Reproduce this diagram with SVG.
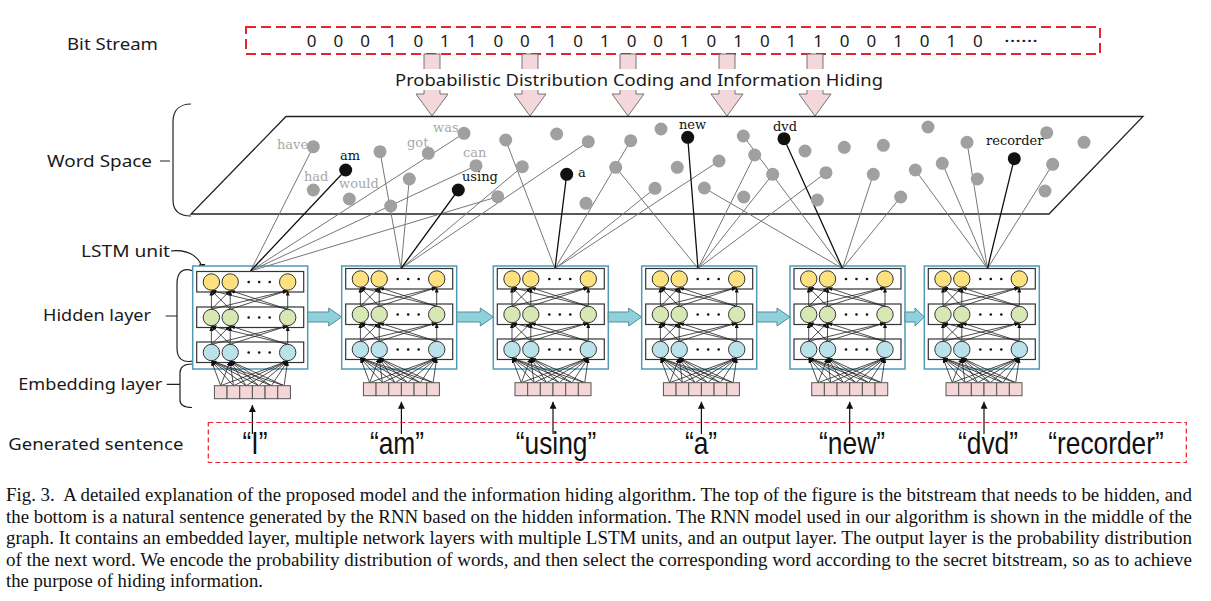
<svg xmlns="http://www.w3.org/2000/svg" xmlns:xlink="http://www.w3.org/1999/xlink" width="1211" height="601" viewBox="0 0 1211 601">
<style>
.lbl{font-family:"Noto Sans","Liberation Sans",sans-serif;font-size:17px;fill:#1a1a1a}
.bits{font-family:"Noto Sans","Liberation Sans",sans-serif;font-size:17px;fill:#1a1a1a}
.wg{font-family:"DejaVu Serif","Liberation Serif",serif;font-size:13px;fill:#a8a8a8}
.wb{font-family:"DejaVu Serif","Liberation Serif",serif;font-size:13px;fill:#111}
.gd{fill:#a0a0a0}
.bd{fill:#111}
.gl{stroke:#777;stroke-width:1;fill:none}
.bl{stroke:#111;stroke-width:1.3;fill:none}
.sent{font-family:"Liberation Sans",sans-serif;font-size:31px;fill:#111}
.cap{font-family:"Liberation Serif",serif;font-size:18px;fill:#111}
.outer{fill:#fff;stroke:#4f9bb8;stroke-width:1.5}
.row{fill:#fff;stroke:#333;stroke-width:1.2}
.cy{fill:#fce17e;stroke:#333;stroke-width:1}
.cg{fill:#d7e8b5;stroke:#333;stroke-width:1}
.cb{fill:#b9e2ea;stroke:#333;stroke-width:1}
.in{stroke:#222;stroke-width:0.8;marker-end:url(#ah)}
.emb{fill:#f4d5d8;stroke:#555;stroke-width:1}
.pink{fill:#f4d7da;stroke:#555;stroke-width:0.8}
.blk{fill:#8fd0da;stroke:#4d8e9c;stroke-width:1}
.up{stroke:#111;stroke-width:1.2;marker-end:url(#ahb)}
.brace{fill:none;stroke:#222;stroke-width:1.2}
.red{fill:none;stroke:#e8232d}
</style>
<defs>
<marker id="ah" viewBox="0 0 10 8" refX="10" refY="4" markerWidth="5" markerHeight="4" orient="auto" markerUnits="userSpaceOnUse"><path d="M0,0 L10,4 L0,8 z" fill="#111"/></marker>
<marker id="ahb" viewBox="0 0 10 10" refX="10" refY="5" markerWidth="7" markerHeight="7" orient="auto" markerUnits="userSpaceOnUse"><path d="M0,0 L10,5 L0,10 z" fill="#111"/></marker>
<g id="cell">
<rect class="row" x="4" y="268.5" width="107" height="20.5"/>
<rect class="row" x="4" y="304" width="107" height="20.5"/>
<rect class="row" x="4" y="339" width="107" height="20.5"/>
<line class="in" x1="18.7" y1="306.3" x2="18.7" y2="287.5"/>
<line class="in" x1="18.7" y1="306.3" x2="37.5" y2="287.5"/>
<line class="in" x1="18.7" y1="306.3" x2="95" y2="287.5"/>
<line class="in" x1="37.5" y1="306.3" x2="18.7" y2="287.5"/>
<line class="in" x1="37.5" y1="306.3" x2="37.5" y2="287.5"/>
<line class="in" x1="37.5" y1="306.3" x2="95" y2="287.5"/>
<line class="in" x1="95" y1="306.3" x2="18.7" y2="287.5"/>
<line class="in" x1="95" y1="306.3" x2="37.5" y2="287.5"/>
<line class="in" x1="95" y1="306.3" x2="95" y2="287.5"/>
<line class="in" x1="18.7" y1="341.3" x2="18.7" y2="322.9"/>
<line class="in" x1="18.7" y1="341.3" x2="37.5" y2="322.9"/>
<line class="in" x1="18.7" y1="341.3" x2="95" y2="322.9"/>
<line class="in" x1="37.5" y1="341.3" x2="18.7" y2="322.9"/>
<line class="in" x1="37.5" y1="341.3" x2="37.5" y2="322.9"/>
<line class="in" x1="37.5" y1="341.3" x2="95" y2="322.9"/>
<line class="in" x1="95" y1="341.3" x2="18.7" y2="322.9"/>
<line class="in" x1="95" y1="341.3" x2="37.5" y2="322.9"/>
<line class="in" x1="95" y1="341.3" x2="95" y2="322.9"/>
<line class="in" x1="28" y1="382.7" x2="18.7" y2="358"/>
<line class="in" x1="28" y1="382.7" x2="37.5" y2="358"/>
<line class="in" x1="28" y1="382.7" x2="95" y2="358"/>
<line class="in" x1="40.7" y1="382.7" x2="18.7" y2="358"/>
<line class="in" x1="40.7" y1="382.7" x2="37.5" y2="358"/>
<line class="in" x1="40.7" y1="382.7" x2="95" y2="358"/>
<line class="in" x1="53.4" y1="382.7" x2="18.7" y2="358"/>
<line class="in" x1="53.4" y1="382.7" x2="37.5" y2="358"/>
<line class="in" x1="53.4" y1="382.7" x2="95" y2="358"/>
<line class="in" x1="66" y1="382.7" x2="18.7" y2="358"/>
<line class="in" x1="66" y1="382.7" x2="37.5" y2="358"/>
<line class="in" x1="66" y1="382.7" x2="95" y2="358"/>
<line class="in" x1="78.7" y1="382.7" x2="18.7" y2="358"/>
<line class="in" x1="78.7" y1="382.7" x2="37.5" y2="358"/>
<line class="in" x1="78.7" y1="382.7" x2="95" y2="358"/>
<line class="in" x1="91.4" y1="382.7" x2="18.7" y2="358"/>
<line class="in" x1="91.4" y1="382.7" x2="37.5" y2="358"/>
<line class="in" x1="91.4" y1="382.7" x2="95" y2="358"/>
<circle class="cy" cx="18.7" cy="279" r="8.2"/>
<circle class="cy" cx="37.5" cy="279" r="8.2"/>
<circle class="cy" cx="95" cy="279" r="8.2"/>
<circle class="cg" cx="18.7" cy="314.5" r="8.2"/>
<circle class="cg" cx="37.5" cy="314.5" r="8.2"/>
<circle class="cg" cx="95" cy="314.5" r="8.2"/>
<circle class="cb" cx="18.7" cy="349.5" r="8.2"/>
<circle class="cb" cx="37.5" cy="349.5" r="8.2"/>
<circle class="cb" cx="95" cy="349.5" r="8.2"/>
<g fill="#111">
<circle cx="56" cy="279" r="1.3"/><circle cx="66.5" cy="279" r="1.3"/><circle cx="77" cy="279" r="1.3"/>
<circle cx="56" cy="314.5" r="1.3"/><circle cx="66.5" cy="314.5" r="1.3"/><circle cx="77" cy="314.5" r="1.3"/>
<circle cx="56" cy="349.5" r="1.3"/><circle cx="66.5" cy="349.5" r="1.3"/><circle cx="77" cy="349.5" r="1.3"/>
</g>
<rect class="emb" x="21.7" y="382.7" width="12.67" height="13"/>
<rect class="emb" x="34.37" y="382.7" width="12.67" height="13"/>
<rect class="emb" x="47.04" y="382.7" width="12.67" height="13"/>
<rect class="emb" x="59.71" y="382.7" width="12.67" height="13"/>
<rect class="emb" x="72.38" y="382.7" width="12.67" height="13"/>
<rect class="emb" x="85.05" y="382.7" width="12.67" height="13"/>
</g>
</defs>
<rect width="1211" height="601" fill="#fff"/>

<g id="labels">
<text class="lbl" x="67" y="50" textLength="91" lengthAdjust="spacingAndGlyphs">Bit Stream</text>
<text class="lbl" x="47" y="167" textLength="105" lengthAdjust="spacingAndGlyphs">Word Space</text>
<text class="lbl" x="81" y="256.7" textLength="89" lengthAdjust="spacingAndGlyphs">LSTM unit</text>
<text class="lbl" x="43" y="320.7" textLength="108" lengthAdjust="spacingAndGlyphs">Hidden layer</text>
<text class="lbl" x="18.3" y="390" textLength="144" lengthAdjust="spacingAndGlyphs">Embedding layer</text>
<text class="lbl" x="8.3" y="450" textLength="175" lengthAdjust="spacingAndGlyphs">Generated sentence</text>
<path class="brace" d="M160,161 H170 M191,104 C180,104 173,110 173,122 L173,200 C173,211 180,216 191,216"/>
<path class="brace" d="M165.7,316 H177 M193,271 C183,267 177,272 177,284 L177,348 C177,359 183,363 193,361"/>
<path class="brace" d="M166.7,384.3 H180 M192,364 C184,364 180,367 180,373 L180,400 C180,405 184,407.5 192,407.5"/>
<path d="M171,251 C190,249 201,258 203,271" fill="none" stroke="#111" stroke-width="1.2" marker-end="url(#ahb)"/>
</g>

<g id="bitstream">
<rect class="red" x="246" y="27" width="854" height="27" stroke-width="2" stroke-dasharray="10 5"/>
<text class="bits" y="46.7" text-anchor="middle" x="311.7 338.35 365 391.65 418.3 444.95 471.6 498.25 524.9 551.55 578.2 604.85 631.5 658.15 684.8 711.45 738.1 764.75 791.4 818.05 844.7 871.35 898 924.65 951.3 977.95">00010110010100101011001010</text>
<text class="bits" x="1004" y="46.7" textLength="34" lengthAdjust="spacingAndGlyphs">······</text>
</g>

<g id="coding-arrows">
<path class="pink" d="M424,54 H440 V94 H448 L432,116 L416,94 H424 Z"/>
<path class="pink" d="M522,54 H538 V94 H546 L530,116 L514,94 H522 Z"/>
<path class="pink" d="M620,54 H636 V94 H644 L628,116 L612,94 H620 Z"/>
<path class="pink" d="M719,54 H735 V94 H743 L727,116 L711,94 H719 Z"/>
<path class="pink" d="M807,54 H823 V94 H831 L815,116 L799,94 H807 Z"/>
<rect x="392" y="69" width="494" height="21" fill="#fff"/>
<text class="lbl" x="395" y="85.7" font-size="19.5" textLength="488" lengthAdjust="spacingAndGlyphs">Probabilistic Distribution Coding and Information Hiding</text>
</g>

<g id="word-space">
<path d="M286,116.5 H1143 L1049,214 H191 Z" fill="#fff" stroke="#222" stroke-width="1.3"/>
</g>

<g id="lstm1"><rect class="outer" x="192.7" y="266" width="115" height="103"/><use xlink:href="#cell" href="#cell" x="192.7" y="3"/></g>
<g id="lstm2"><rect class="outer" x="341.7" y="266" width="115" height="103"/><use xlink:href="#cell" href="#cell" x="341.7" y="0"/></g>
<g id="lstm3"><rect class="outer" x="493.3" y="266" width="115" height="103"/><use xlink:href="#cell" href="#cell" x="493.3" y="0"/></g>
<g id="lstm4"><rect class="outer" x="641.7" y="266" width="115" height="103"/><use xlink:href="#cell" href="#cell" x="641.7" y="0"/></g>
<g id="lstm5"><rect class="outer" x="790" y="266" width="115" height="103"/><use xlink:href="#cell" href="#cell" x="790" y="0"/></g>
<g id="lstm6"><rect class="outer" x="924.3" y="266" width="115" height="103"/><use xlink:href="#cell" href="#cell" x="924.3" y="0"/></g>

<g id="connectors">
<path class="gl" d="M313.3,146.7 L250.5,271 M464,133.3 L250.5,271 M476,165.7 L250.5,271 M497.7,196.7 L250.5,271
M380,151.7 L401,268.5 M409.3,179 L401,268.5 M522.3,166.7 L401,268.5 M588.3,141.7 L401,268.5
M505.7,140 L555,268.5 M630.7,140.7 L555,268.5 M655,188.3 L555,268.5 M719,161 L555,268.5
M615.7,167.3 L698,268.5 M754.7,155 L698,268.5 M772.7,174.3 L698,268.5 M826,172.7 L698,268.5
M743.3,136 L842.5,268.5 M704.3,188 L842.5,268.5 M873.3,174.3 L842.5,268.5 M900.7,197 L842.5,268.5
M915.3,170 L987.5,268.5 M942.3,163.3 L987.5,268.5 M967,142.3 L987.5,268.5 M1052.7,164.3 L987.5,268.5"/>
<path class="bl" d="M345.7,170 L250.5,271 M458.3,190 L401,268.5 M566.7,174.3 L555,268.5 M687.7,137.3 L698,268.5 M784,138.7 L842.5,268.5 M1014.3,158.7 L987.5,268.5"/>
<path class="blk" d="M307.7,312 H328.7 V308 L341.7,317 L328.7,326 V322 H307.7 Z"/>
<path class="blk" d="M456.7,312 H480.3 V308 L493.3,317 L480.3,326 V322 H456.7 Z"/>
<path class="blk" d="M608.3,312 H628.7 V308 L641.7,317 L628.7,326 V322 H608.3 Z"/>
<path class="blk" d="M756.7,312 H777 V308 L790,317 L777,326 V322 H756.7 Z"/>
<path class="blk" d="M905,312 H915 V308 L924.3,317 L915,326 V322 H905 Z"/>
<line class="up" x1="252.4" y1="434" x2="252.4" y2="405"/>
<line class="up" x1="401.4" y1="434" x2="401.4" y2="401.7"/>
<line class="up" x1="553" y1="434" x2="553" y2="401.7"/>
<line class="up" x1="701.4" y1="434" x2="701.4" y2="401.7"/>
<line class="up" x1="849.7" y1="434" x2="849.7" y2="401.7"/>
<line class="up" x1="984" y1="434" x2="984" y2="401.7"/>
</g>

<g id="words">
<g class="gd">
<circle cx="313.3" cy="146.7" r="6.5"/><circle cx="313.3" cy="190" r="6.5"/><circle cx="349.3" cy="199" r="6.5"/>
<circle cx="380" cy="151.7" r="6.5"/><circle cx="428.3" cy="153.3" r="6.5"/><circle cx="464" cy="133.3" r="6.5"/>
<circle cx="409.3" cy="179" r="6.5"/><circle cx="390.7" cy="206" r="6.5"/><circle cx="476" cy="165.7" r="6.5"/>
<circle cx="497.7" cy="196.7" r="6.5"/><circle cx="505.7" cy="140" r="6.5"/><circle cx="522.3" cy="166.7" r="6.5"/>
<circle cx="556.7" cy="134" r="6.5"/><circle cx="588.3" cy="141.7" r="6.5"/><circle cx="586" cy="203.3" r="6.5"/>
<circle cx="630.7" cy="140.7" r="6.5"/><circle cx="615.7" cy="167.3" r="6.5"/><circle cx="655" cy="188.3" r="6.5"/>
<circle cx="661" cy="129" r="6.5"/><circle cx="677.3" cy="167.3" r="6.5"/><circle cx="719" cy="161" r="6.5"/>
<circle cx="704.3" cy="188" r="6.5"/><circle cx="743.3" cy="136" r="6.5"/><circle cx="754.7" cy="155" r="6.5"/>
<circle cx="772.7" cy="174.3" r="6.5"/><circle cx="743.7" cy="197" r="6.5"/><circle cx="805" cy="151" r="6.5"/>
<circle cx="844.3" cy="147.3" r="6.5"/><circle cx="883.3" cy="145.3" r="6.5"/><circle cx="826" cy="172.7" r="6.5"/>
<circle cx="817.3" cy="200" r="6.5"/><circle cx="873.3" cy="174.3" r="6.5"/><circle cx="900.7" cy="197" r="6.5"/>
<circle cx="928" cy="127" r="6.5"/><circle cx="915.3" cy="170" r="6.5"/><circle cx="942.3" cy="163.3" r="6.5"/>
<circle cx="967" cy="142.3" r="6.5"/><circle cx="977.3" cy="179" r="6.5"/><circle cx="1046.7" cy="132.7" r="6.5"/>
<circle cx="1084" cy="142.3" r="6.5"/><circle cx="1052.7" cy="164.3" r="6.5"/><circle cx="1045" cy="191" r="6.5"/>
</g>
<g class="bd">
<circle cx="345.7" cy="170" r="6.5"/><circle cx="458.3" cy="190" r="6.5"/><circle cx="566.7" cy="174.3" r="6.5"/>
<circle cx="687.7" cy="137.3" r="6.5"/><circle cx="784" cy="138.7" r="6.5"/><circle cx="1014.3" cy="158.7" r="6.5"/>
</g>
<text class="wg" x="277" y="149">have</text>
<text class="wg" x="304" y="181">had</text>
<text class="wg" x="339" y="188">would</text>
<text class="wg" x="407" y="147">got</text>
<text class="wg" x="433" y="132">was</text>
<text class="wg" x="463" y="157">can</text>
<text class="wb" x="340" y="160">am</text>
<text class="wb" x="462" y="181">using</text>
<text class="wb" x="578" y="177">a</text>
<text class="wb" x="679" y="129">new</text>
<text class="wb" x="773" y="131">dvd</text>
<text class="wb" x="986" y="145">recorder</text>
</g>

<g id="sentence">
<rect class="red" x="208.3" y="422.5" width="978" height="40" stroke-width="1.2" stroke-dasharray="5 3"/>
<text class="sent" text-anchor="middle" transform="translate(255,454) scale(0.85,1)">“I”</text>
<text class="sent" text-anchor="middle" transform="translate(397,454) scale(0.85,1)">“am”</text>
<text class="sent" text-anchor="middle" transform="translate(556,454) scale(0.85,1)">“using”</text>
<text class="sent" text-anchor="middle" transform="translate(701,454) scale(0.85,1)">“a”</text>
<text class="sent" text-anchor="middle" transform="translate(852,454) scale(0.85,1)">“new”</text>
<text class="sent" text-anchor="middle" transform="translate(988,454) scale(0.85,1)">“dvd”</text>
<text class="sent" text-anchor="middle" transform="translate(1106,454) scale(0.85,1)">“recorder”</text>
</g>

<g id="caption">
<text class="cap" x="6" y="501" textLength="1186" lengthAdjust="spacingAndGlyphs">Fig. 3.&#160; A detailed explanation of the proposed model and the information hiding algorithm. The top of the figure is the bitstream that needs to be hidden, and</text>
<text class="cap" x="6" y="522.5" textLength="1186" lengthAdjust="spacingAndGlyphs">the bottom is a natural sentence generated by the RNN based on the hidden information. The RNN model used in our algorithm is shown in the middle of the</text>
<text class="cap" x="6" y="544" textLength="1186" lengthAdjust="spacingAndGlyphs">graph. It contains an embedded layer, multiple network layers with multiple LSTM units, and an output layer. The output layer is the probability distribution</text>
<text class="cap" x="6" y="565.5" textLength="1186" lengthAdjust="spacingAndGlyphs">of the next word. We encode the probability distribution of words, and then select the corresponding word according to the secret bitstream, so as to achieve</text>
<text class="cap" x="6" y="587" textLength="257" lengthAdjust="spacingAndGlyphs">the purpose of hiding information.</text>
</g>
</svg>
